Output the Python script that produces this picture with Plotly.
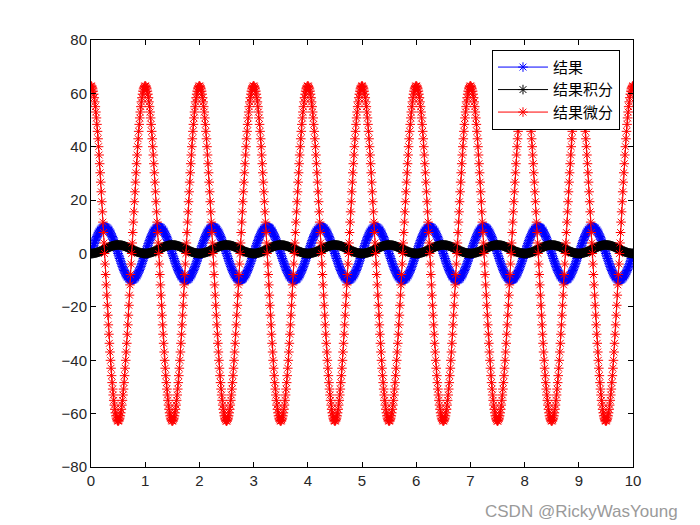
import numpy as np
import plotly.graph_objects as go

t_start, t_stop, t_step = 0.0, 10.0, 0.01
amplitude = 10.0
cycles_per_unit = 1.0

names = ["结果", "结果积分", "结果微分"]
colors = ["#0000ff", "#000000", "#ff0000"]
x_ticks = list(range(0, 11))
y_ticks = list(range(-80, 81, 20))

t = np.arange(t_start, t_stop + t_step / 2, t_step)
result = amplitude * np.sin(2 * np.pi * cycles_per_unit * t)
# integral and derivative of the sampled result (numerical, as in the original)
integral = np.concatenate([[0.0], np.cumsum((result[1:] + result[:-1]) / 2 * t_step)])
derivative = np.gradient(result, t_step)

series = [result, integral, derivative]

fig = go.Figure()
for name, color, y in zip(names, colors, series):
    fig.add_trace(go.Scatter(
        x=t, y=y, name=name, mode="lines+markers",
        line=dict(color=color, width=1),
        marker=dict(symbol="asterisk-open", size=8, color=color,
                    line=dict(color=color, width=1)),
    ))

axis_common = dict(
    showgrid=False, zeroline=False, showline=True, linecolor="black",
    linewidth=1, mirror="ticks", ticks="inside", ticklen=5,
    tickcolor="black", tickfont=dict(family="Liberation Sans, Arial", size=15, color="#262626"),
)
fig.update_xaxes(range=[0, 10], tickvals=x_ticks, **axis_common)
fig.update_yaxes(range=[-80, 80], tickvals=y_ticks, **axis_common)

fig.update_layout(
    width=700, height=525,
    margin=dict(l=91, r=67, t=40, b=58),
    paper_bgcolor="white", plot_bgcolor="white",
    legend=dict(
        x=0.976, y=0.977, xanchor="right", yanchor="top",
        bordercolor="black", borderwidth=1, bgcolor="white",
        font=dict(family="Noto Sans CJK SC", size=15, color="black"),
        tracegroupgap=0, itemwidth=50,
    ),
    annotations=[dict(
        text="CSDN @RickyWasYoung", x=1.0, y=0.0, xref="paper", yref="paper",
        xanchor="right", yanchor="bottom", showarrow=False, xshift=47, yshift=-56,
        font=dict(family="Liberation Sans, Arial", size=17, color="#9a9a9a"),
    )],
)

fig.write_html("out.html")
